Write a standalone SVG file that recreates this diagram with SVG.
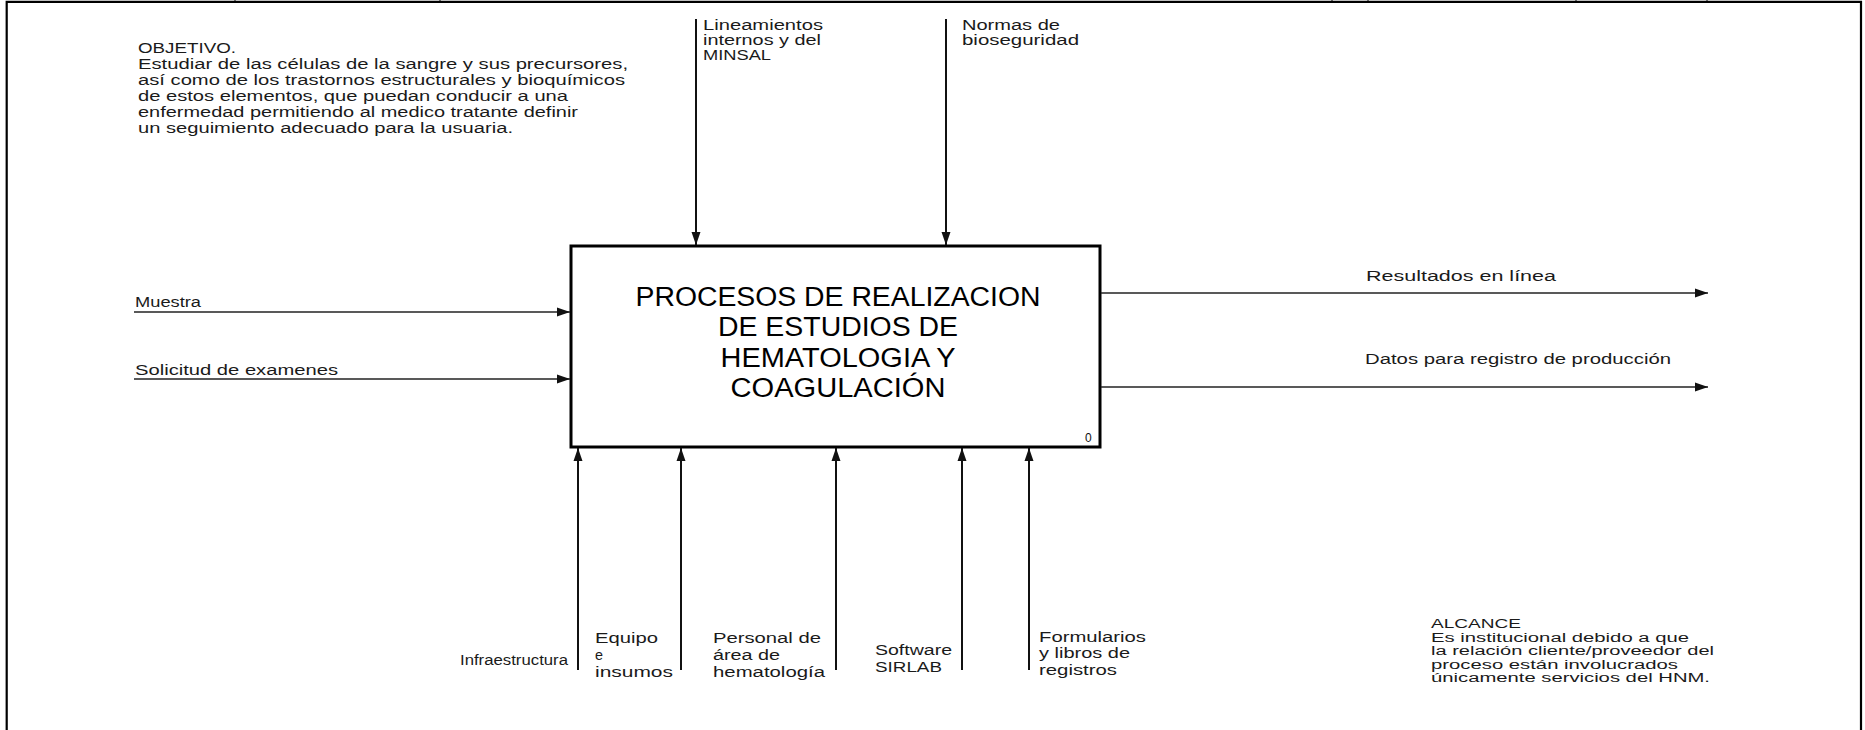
<svg xmlns="http://www.w3.org/2000/svg" width="1865" height="730" viewBox="0 0 1865 730">
<defs>
<marker id="ah" markerUnits="userSpaceOnUse" markerWidth="14" markerHeight="10" refX="13" refY="5" orient="auto">
<path d="M0,0.5 L13,5 L0,9.5 z" fill="#111"/>
</marker>
<style>
.frame{stroke:#000;stroke-width:2.2;fill:none}
.tick{stroke:#000;stroke-width:1}
.conn{stroke:#222;stroke-width:1.6;fill:none}
.vconn{stroke:#111;stroke-width:2;fill:none}
.box{fill:#fff;stroke:#000;stroke-width:3}
.lbl{font-family:"Liberation Sans",Arial,sans-serif;font-size:14px;fill:#1a1a1a}
.note{font-family:"Liberation Sans",Arial,sans-serif;font-size:14px;fill:#1a1a1a}
.scope{font-family:"Liberation Sans",Arial,sans-serif;font-size:12.5px;fill:#1a1a1a}
.title{font-family:"Liberation Sans",Arial,sans-serif;font-size:27px;fill:#000;text-anchor:middle}
.num{font-family:"Liberation Sans",Arial,sans-serif;font-size:12px;fill:#111}
</style>
</defs>
<rect x="0" y="0" width="1865" height="730" fill="#fff"/>
<g id="frame">
<path class="frame" d="M6.7,730 L6.7,1.8 L1861,1.8 L1861,730"/>
<line class="tick" x1="235" y1="0" x2="235" y2="2"/>
<line class="tick" x1="440" y1="0" x2="440" y2="2"/>
<line class="tick" x1="1332" y1="0" x2="1332" y2="2"/>
<line class="tick" x1="1368" y1="0" x2="1368" y2="2"/>
<line class="tick" x1="1576" y1="0" x2="1576" y2="2"/>
<line class="tick" x1="1707" y1="0" x2="1707" y2="2"/>
</g>
<g id="objetivo">
<text class="note" x="138" y="53" textLength="98" lengthAdjust="spacingAndGlyphs">OBJETIVO.</text>
<text class="note" x="138" y="69" textLength="490" lengthAdjust="spacingAndGlyphs">Estudiar de las células de la sangre y sus precursores,</text>
<text class="note" x="138" y="85" textLength="487" lengthAdjust="spacingAndGlyphs">así como de los trastornos estructurales y bioquímicos</text>
<text class="note" x="138" y="101" textLength="430" lengthAdjust="spacingAndGlyphs">de estos elementos, que puedan conducir a una</text>
<text class="note" x="138" y="117" textLength="440" lengthAdjust="spacingAndGlyphs">enfermedad permitiendo al medico tratante definir</text>
<text class="note" x="138" y="133" textLength="375" lengthAdjust="spacingAndGlyphs">un seguimiento adecuado para la usuaria.</text>
</g>
<g id="alcance">
<text class="scope" x="1431" y="628" textLength="90" lengthAdjust="spacingAndGlyphs">ALCANCE</text>
<text class="scope" x="1431" y="641.5" textLength="258" lengthAdjust="spacingAndGlyphs">Es institucional debido a que</text>
<text class="scope" x="1431" y="655" textLength="283" lengthAdjust="spacingAndGlyphs">la relación cliente/proveedor del</text>
<text class="scope" x="1431" y="668.5" textLength="247" lengthAdjust="spacingAndGlyphs">proceso están involucrados</text>
<text class="scope" x="1431" y="682" textLength="279" lengthAdjust="spacingAndGlyphs">únicamente servicios del HNM.</text>
</g>
<g id="process-0">
<rect class="box" x="571" y="246" width="529" height="201"/>
<text class="title" x="838" y="305.5" textLength="405" lengthAdjust="spacingAndGlyphs">PROCESOS DE REALIZACION</text>
<text class="title" x="838" y="336" textLength="240" lengthAdjust="spacingAndGlyphs">DE ESTUDIOS DE</text>
<text class="title" x="838" y="366.5" textLength="235" lengthAdjust="spacingAndGlyphs">HEMATOLOGIA Y</text>
<text class="title" x="838" y="397" textLength="215" lengthAdjust="spacingAndGlyphs">COAGULACIÓN</text>
<text class="num" x="1085" y="442">0</text>
</g>
<g id="connectors">
<line class="conn" x1="134" y1="312" x2="570" y2="312" marker-end="url(#ah)"/>
<line class="conn" x1="134" y1="379" x2="570" y2="379" marker-end="url(#ah)"/>
<line class="conn" x1="1101" y1="293" x2="1708" y2="293" marker-end="url(#ah)"/>
<line class="conn" x1="1101" y1="387" x2="1708" y2="387" marker-end="url(#ah)"/>
<line class="vconn" x1="696" y1="19" x2="696" y2="245" marker-end="url(#ah)"/>
<line class="vconn" x1="946" y1="19" x2="946" y2="245" marker-end="url(#ah)"/>
<line class="vconn" x1="578" y1="670" x2="578" y2="448" marker-end="url(#ah)"/>
<line class="vconn" x1="681" y1="670" x2="681" y2="448" marker-end="url(#ah)"/>
<line class="vconn" x1="836" y1="670" x2="836" y2="448" marker-end="url(#ah)"/>
<line class="vconn" x1="962" y1="670" x2="962" y2="448" marker-end="url(#ah)"/>
<line class="vconn" x1="1029" y1="670" x2="1029" y2="448" marker-end="url(#ah)"/>
</g>
<g id="labels">
<text class="lbl" x="135" y="307" textLength="66" lengthAdjust="spacingAndGlyphs">Muestra</text>
<text class="lbl" x="135" y="375" textLength="203" lengthAdjust="spacingAndGlyphs">Solicitud de examenes</text>
<text class="lbl" x="1366" y="281" textLength="190" lengthAdjust="spacingAndGlyphs">Resultados en línea</text>
<text class="lbl" x="1365" y="364" textLength="306" lengthAdjust="spacingAndGlyphs">Datos para registro de producción</text>
<text class="lbl" x="703" y="30" textLength="120" lengthAdjust="spacingAndGlyphs">Lineamientos</text>
<text class="lbl" x="703" y="45" textLength="118" lengthAdjust="spacingAndGlyphs">internos y del</text>
<text class="lbl" x="703" y="60" textLength="68" lengthAdjust="spacingAndGlyphs">MINSAL</text>
<text class="lbl" x="962" y="30" textLength="98" lengthAdjust="spacingAndGlyphs">Normas de</text>
<text class="lbl" x="962" y="45" textLength="117" lengthAdjust="spacingAndGlyphs">bioseguridad</text>
<text class="lbl" x="460" y="665" textLength="108" lengthAdjust="spacingAndGlyphs">Infraestructura</text>
<text class="lbl" x="595" y="643" textLength="63" lengthAdjust="spacingAndGlyphs">Equipo</text>
<text class="lbl" x="595" y="660" textLength="8" lengthAdjust="spacingAndGlyphs">e</text>
<text class="lbl" x="595" y="677" textLength="78" lengthAdjust="spacingAndGlyphs">insumos</text>
<text class="lbl" x="713" y="643" textLength="108" lengthAdjust="spacingAndGlyphs">Personal de</text>
<text class="lbl" x="713" y="660" textLength="67" lengthAdjust="spacingAndGlyphs">área de</text>
<text class="lbl" x="713" y="677" textLength="112" lengthAdjust="spacingAndGlyphs">hematología</text>
<text class="lbl" x="875" y="655" textLength="77" lengthAdjust="spacingAndGlyphs">Software</text>
<text class="lbl" x="875" y="672" textLength="67" lengthAdjust="spacingAndGlyphs">SIRLAB</text>
<text class="lbl" x="1039" y="642" textLength="107" lengthAdjust="spacingAndGlyphs">Formularios</text>
<text class="lbl" x="1039" y="658" textLength="91" lengthAdjust="spacingAndGlyphs">y libros de</text>
<text class="lbl" x="1039" y="675" textLength="78" lengthAdjust="spacingAndGlyphs">registros</text>
</g>
</svg>
